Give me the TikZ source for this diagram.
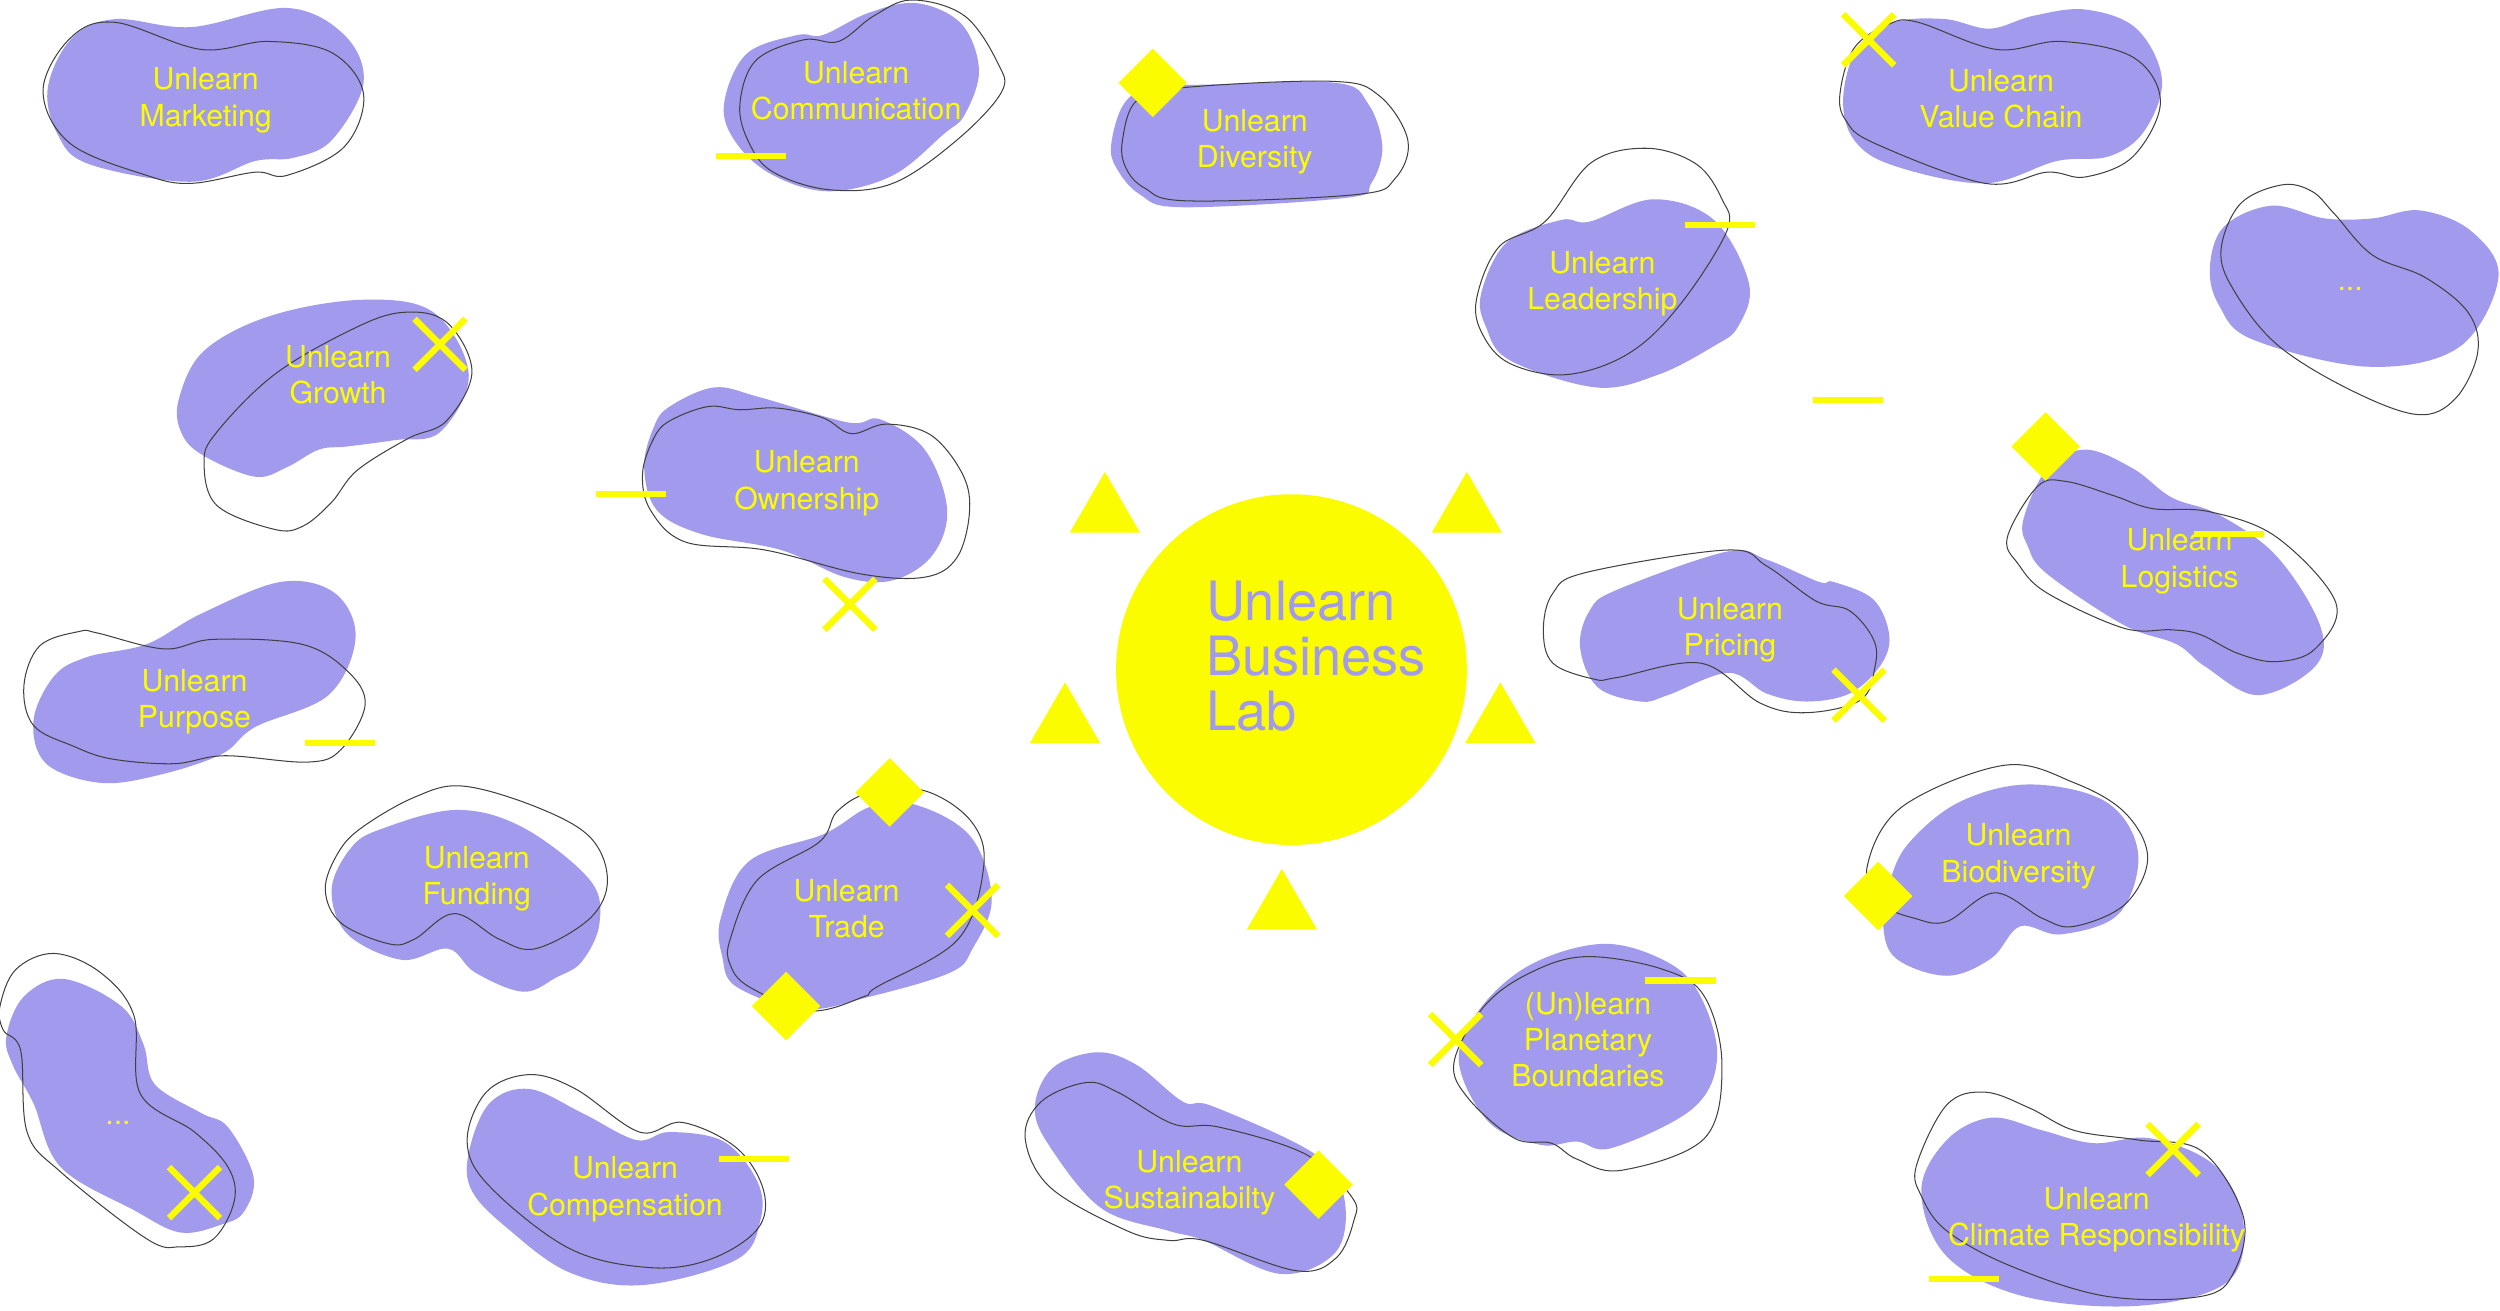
\documentclass[tikz,border=0pt]{standalone}
\usepackage{fontspec}
\setmainfont{TeX Gyre Heros}
\definecolor{purp}{RGB}{162,154,236}
\definecolor{yel}{RGB}{252,252,0}
\begin{document}
\begin{tikzpicture}[x=0.5pt,y=-0.5pt,
  blobfill/.style={fill=purp},
  blobline/.style={draw=black!75,line width=0.32pt},
  lbl/.style={text=yel,font=\fontsize{9.5}{11.4}\selectfont,align=center,inner sep=0pt},
  dashmark/.style={draw=yel,line width=2pt},
  xmark/.style={draw=yel,line width=2pt},
  diamondmark/.style={fill=yel},
  trianglemark/.style={fill=yel},
  sm/.style={smooth cycle,tension=0.6}]
\useasboundingbox (0,0) rectangle (1568,822);
\fill[white] (0,0) rectangle (1568,822);

% ---------- purple fills ----------
\fill[blobfill] plot[sm] coordinates {(30,55) (45,24) (72,12) (120,17) (180,5) (216,22) (228,52) (208,88) (184,99) (160,101) (120,114) (56,103) (36,84)};
\fill[blobfill] plot[sm] coordinates {(454,66) (468,34) (500,22) (516,22) (545,8) (575,2) (603,15) (614,44) (605,72) (592,84) (560,110) (520,120) (485,110) (462,90)};
\fill[blobfill] plot[sm] coordinates {(697,90) (705,65) (722,55) (760,53) (838,52) (858,65) (867,92) (860,115) (845,124) (742,130) (715,122) (700,105)};
\fill[blobfill] plot[sm] coordinates {(1156,62) (1165,30) (1188,14) (1220,12) (1248,18) (1275,10) (1308,6) (1340,18) (1356,50) (1345,82) (1323,98) (1290,101) (1245,115) (1188,104) (1163,88)};
\fill[blobfill] plot[sm] coordinates {(929,184) (945,152) (979,138) (997,139) (1037,125) (1075,138) (1097,178) (1090,205) (1075,217) (1040,235) (1001,243) (947,226) (932,205)};
\fill[blobfill] plot[sm] coordinates {(1386,168) (1395,142) (1425,129) (1458,137) (1488,137) (1518,132) (1550,145) (1567,174) (1542,218) (1485,230) (1413,213) (1392,192)};
\fill[blobfill] plot[sm] coordinates {(112,251) (128,220) (170,198) (228,188) (272,196) (294,235) (276,271) (248,276) (218,280) (200,282) (180,293) (160,299) (128,286) (114,272)};
\fill[blobfill] plot[sm] coordinates {(404,293) (410,268) (420,255) (448,243) (476,249) (532,265) (552,263) (580,282) (594,319) (585,348) (560,364) (530,362) (490,345) (440,335) (412,320)};
\fill[blobfill] plot[sm] coordinates {(21,452) (34,424) (55,412) (92,404) (126,385) (176,365) (210,372) (223,400) (206,436) (160,456) (139,473) (100,486) (63,491) (29,479)};
\fill[blobfill] plot[sm] coordinates {(208,558) (220,532) (239,520) (286,508) (328,519) (370,552) (376,579) (365,603) (349,613) (328,622) (298,610) (281,595) (252,602) (218,586)};
\fill[blobfill] plot[sm] coordinates {(452,576) (470,540) (517,523) (546,506) (575,505) (609,525) (622,564) (610,595) (596,610) (546,625) (504,633) (462,619) (453,600)};
\fill[blobfill] plot[sm] coordinates {(4,650) (15,625) (40,614) (76,631) (90,655) (97,680) (126,698) (143,707) (159,738) (153,760) (139,768) (113,773) (84,759) (38,732) (21,692) (8,668)};
\fill[blobfill] plot[sm] coordinates {(294,723) (307,692) (332,683) (365,698) (399,715) (420,710) (454,716) (475,741) (477,765) (462,790) (403,806) (357,798) (319,771) (296,747)};
\fill[blobfill] plot[sm] coordinates {(649,695) (660,670) (688,660) (713,668) (742,691) (761,694) (825,724) (843,751) (838,785) (803,799) (755,778) (733,772) (691,758) (659,720)};
\fill[blobfill] plot[sm] coordinates {(915,666) (928,633) (960,605) (1005,592) (1043,602) (1065,622) (1077,662) (1062,695) (1011,720) (989,716) (966,718) (934,704)};
\fill[blobfill] plot[sm] coordinates {(991,406) (997,383) (1014,370) (1083,346) (1108,351) (1141,365) (1150,365) (1175,376) (1185,399) (1179,418) (1160,435) (1133,440) (1108,435) (1084,422) (1046,436) (1029,440) (1002,431)};
\fill[blobfill] plot[sm] coordinates {(1269,326) (1284,294) (1308,282) (1338,294) (1362,312) (1392,323) (1428,349) (1455,392) (1452,418) (1416,436) (1383,418) (1365,404) (1332,392) (1284,360) (1272,343)};
\fill[blobfill] plot[sm] coordinates {(1185,554) (1197,529) (1229,503) (1273,492) (1321,503) (1341,535) (1329,573) (1293,586) (1267,581) (1249,601) (1221,612) (1189,601) (1181,579)};
\fill[blobfill] plot[sm] coordinates {(1205,747) (1221,715) (1249,701) (1281,709) (1313,717) (1349,714) (1389,731) (1407,766) (1397,804) (1341,819) (1269,813) (1221,788)};

% ---------- outlines ----------
\draw[blobline] plot[sm] coordinates {(27,57) (44,24) (72,14) (126,31) (168,26) (208,33) (228,59) (216,92) (180,110) (160,108) (120,115) (92,110) (44,90)};
\draw[blobline] plot[sm] coordinates {(464,66) (474,38) (504,25) (526,26) (548,10) (572,0) (605,10) (626,40) (628,58) (600,88) (560,115) (520,119) (485,108) (470,90)};
\draw[blobline] plot[sm] coordinates {(704,88) (713,63) (742,55) (835,51) (865,60) (883,88) (875,112) (851,122) (745,126) (718,118) (706,105)};
\draw[blobline] plot[sm] coordinates {(1154,59) (1163,30) (1185,15) (1203,14) (1252,31) (1293,26) (1338,36) (1355,64) (1338,98) (1308,111) (1284,108) (1245,115) (1176,90) (1158,76)};
\draw[blobline] plot[sm] coordinates {(926,188) (940,155) (969,139) (998,102) (1033,93) (1064,103) (1080,125) (1083,145) (1053,192) (1021,222) (982,235) (947,228) (930,210)};
\draw[blobline] plot[sm] coordinates {(1393,157) (1405,128) (1431,116) (1450,120) (1464,134) (1488,160) (1521,174) (1548,196) (1554,221) (1540,250) (1516,260) (1473,244) (1428,216) (1401,182)};
\draw[blobline] plot[sm] coordinates {(128,290) (136,271) (172,235) (220,207) (252,196) (280,202) (296,233) (280,264) (256,275) (224,295) (208,315) (190,330) (172,332) (136,317)};
\draw[blobline] plot[sm] coordinates {(403,297) (410,275) (420,264) (444,255) (464,257) (488,256) (516,262) (534,272) (556,266) (584,273) (604,298) (608,322) (600,350) (580,362) (540,360) (480,345) (430,340) (408,320)};
\draw[blobline] plot[sm] coordinates {(15,430) (25,405) (50,396) (61,397) (103,407) (134,401) (189,404) (218,421) (229,442) (214,470) (193,478) (141,474) (109,479) (70,476) (46,468) (21,455)};
\draw[blobline] plot[sm] coordinates {(204,558) (212,535) (227,519) (260,500) (290,493) (336,506) (370,525) (381,552) (370,576) (336,595) (313,589) (285,573) (260,589) (244,592) (214,579)};
\draw[blobline] plot[sm] coordinates {(458,589) (475,552) (514,528) (525,509) (546,497) (580,496) (609,515) (617,543) (601,589) (550,619) (542,625) (508,634) (470,619) (458,605)};
\draw[blobline] plot[sm] coordinates {(0,631) (10,608) (34,598) (63,610) (84,637) (88,686) (122,710) (143,732) (147,753) (134,777) (113,782) (92,777) (38,735) (17,710) (13,659) (2,646)};
\draw[blobline] plot[sm] coordinates {(293,716) (305,685) (332,674) (361,683) (401,710) (428,704) (462,720) (479,747) (475,771) (445,790) (407,795) (357,783) (307,744)};
\draw[blobline] plot[sm] coordinates {(643,714) (653,691) (681,679) (701,685) (736,705) (765,707) (819,724) (848,751) (849,766) (838,789) (813,797) (755,778) (733,778) (707,772) (659,745)};
\draw[blobline] plot[sm] coordinates {(912,666) (931,631) (960,610) (995,600) (1043,608) (1069,625) (1080,668) (1069,714) (1017,734) (989,727) (973,717) (950,714) (921,689)};
\draw[blobline] plot[sm] coordinates {(968,395) (974,372) (995,359) (1083,345) (1108,355) (1139,377) (1160,383) (1175,401) (1176,418) (1167,439) (1133,447) (1104,441) (1067,416) (1014,425) (1000,426) (974,416)};
\draw[blobline] plot[sm] coordinates {(1259,337) (1278,305) (1296,302) (1326,311) (1350,319) (1386,321) (1428,337) (1465,378) (1452,407) (1428,415) (1404,410) (1380,398) (1362,395) (1332,394) (1284,372) (1266,354)};
\draw[blobline] plot[sm] coordinates {(1171,544) (1193,506) (1257,480) (1301,491) (1333,510) (1347,538) (1333,567) (1301,581) (1281,576) (1251,560) (1221,578) (1201,576) (1181,567)};
\draw[blobline] plot[sm] coordinates {(1202,731) (1221,693) (1245,685) (1273,695) (1301,709) (1341,715) (1381,722) (1407,763) (1401,798) (1381,813) (1321,813) (1261,794) (1221,772) (1205,750)};

% ---------- centre ----------
\node[circle,fill=yel,minimum size=110pt,inner sep=0pt] (hub) at (810,420) {};
\node[anchor=north west,inner sep=0pt,text=purp,align=left,font=\fontsize{17}{17.25}\selectfont] (hubtext) at (756,364) {Unlearn\\Business\\Lab};

% ---------- labels ----------
\node[lbl] (marketing) at (129,63) {Unlearn\\Marketing};
\node[lbl] (communication) at (537,57) {Unlearn\\Communication};
\node[lbl] (diversity) at (787,89) {Unlearn\\Diversity};
\node[lbl] (valuechain) at (1255,62) {Unlearn\\Value Chain};
\node[lbl] (leadership) at (1005,178) {Unlearn\\Leadership};
\node[lbl] (dotsA) at (1474,181) {...};
\node[lbl] (growth) at (212,235) {Unlearn\\Growth};
\node[lbl] (ownership) at (506,303) {Unlearn\\Ownership};
\node[lbl] (purpose) at (122,440) {Unlearn\\Purpose};
\node[lbl] (funding) at (299,551) {Unlearn\\Funding};
\node[lbl] (trade) at (531,570) {Unlearn\\Trade};
\node[lbl] (dotsB) at (74,704) {...};
\node[lbl] (compensation) at (392,746) {Unlearn\\Compensation};
\node[lbl] (sustainability) at (746,742) {Unlearn\\Sustainabilty};
\node[lbl] (planetary) at (996,652) {(Un)learn\\Planetary\\Boundaries};
\node[lbl] (pricing) at (1085,395) {Unlearn\\Pricing};
\node[lbl] (logistics) at (1367,352) {Unlearn\\Logistics};
\node[lbl] (biodiversity) at (1266,537) {Unlearn\\Biodiversity};
\node[lbl] (climate) at (1315,765) {Unlearn\\Climate Responsibility};

% ---------- triangles ----------
\foreach \ax/\ay in {693/296, 920/296, 668/428, 941/428, 804/545}
  \fill[trianglemark,shift={(\ax,\ay)}] (0,0) -- (22,38) -- (-22,38) -- cycle;

% ---------- dashes ----------
\foreach \xa/\xb/\yy in {449/493/98, 1057/1101/141, 374/418/310, 191/235/466, 451/495/727, 1032/1076/615, 1376/1420/335, 1210/1254/802, 1137/1181/251}
  \draw[dashmark] (\xa,\yy) -- (\xb,\yy);

% ---------- crosses ----------
\foreach \cx/\cy in {1172/25, 276/216, 533/379, 122/748, 610/571, 913/652, 1166/436, 1363/721}
  \draw[xmark,shift={(\cx,\cy)}] (-16,-16) -- (16,16) (-16,16) -- (16,-16);

% ---------- diamonds ----------
\foreach \cx/\cy in {723/52, 558/497, 493/631, 827/743, 1283/280, 1178/562}
  \fill[diamondmark,shift={(\cx,\cy)}] (0,-21.5) -- (21.5,0) -- (0,21.5) -- (-21.5,0) -- cycle;
\end{tikzpicture}
\end{document}
